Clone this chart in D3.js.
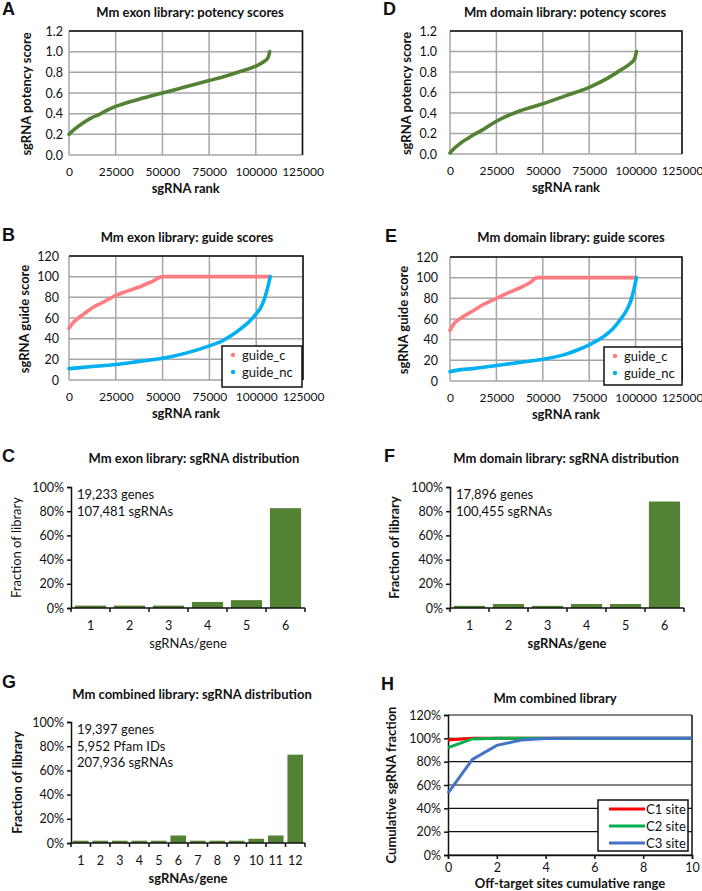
<!DOCTYPE html>
<html>
<head>
<meta charset="utf-8">
<script src="https://cdn.jsdelivr.net/npm/d3@7"></script>
<style>
body { margin: 0; background: #fff; }
text { font-family: Lato, "Open Sans", sans-serif; fill: #111; }
</style>
</head>
<body>
<div id="fig"></div>
<script>
// tick labels
var rankTicks = [0, 25000, 50000, 75000, 100000, 125000];
var potencyTicks = [0, 0.2, 0.4, 0.6, 0.8, 1.0, 1.2];
var guideTicks = [0, 20, 40, 60, 80, 100, 120];
var fracTicks = [0, 0.2, 0.4, 0.6, 0.8, 1.0];
var cumTicks = [0, 0.2, 0.4, 0.6, 0.8, 1.0, 1.2];
var offTicks = [0, 2, 4, 6, 8, 10];

// potency curves [rank, score]
var exonPotency = [[0,0.2],[3000,0.25],[7500,0.31],[12000,0.36],[16000,0.39],[20000,0.43],[25000,0.47],
  [30000,0.5],[37500,0.54],[50000,0.6],[62500,0.66],[75000,0.72],[85000,0.77],[92000,0.81],
  [100000,0.86],[104000,0.9],[106500,0.94],[107481,1.0]];
var domainPotency = [[0,0.01],[2000,0.05],[6000,0.11],[12000,0.18],[18000,0.24],[25000,0.32],[37500,0.42],
  [50000,0.49],[62500,0.57],[75000,0.65],[85000,0.74],[92000,0.82],[97000,0.88],[99500,0.93],[100455,1.0]];

// guide score curves
var exonGuideC = [[0,50],[2000,55],[5000,60],[8000,64],[12500,70],[18000,75],[25000,82],[31000,86],
  [37500,90],[44000,95],[50000,100],[107481,100]];
var exonGuideNc = [[0,11],[6000,12],[12500,13],[25000,15],[37500,18],[50000,21],[62500,26],[75000,33],
  [82000,38],[87500,44],[92000,50],[96000,56],[100000,64],[103000,72],[105000,82],[106500,92],[107481,100]];
var domainGuideC = [[0,49],[2000,55],[6000,61],[12500,68],[18000,74],[25000,80],[31000,85],[37500,90],
  [43000,95],[47000,100],[100455,100]];
var domainGuideNc = [[0,9],[6000,11],[12500,12],[25000,15],[37500,18],[50000,21],[62500,26],[70000,31],
  [75000,35],[82000,42],[87500,50],[92000,60],[95000,68],[97500,78],[99000,88],[100455,100]];

// sgRNA distributions
var exonCats = ["1","2","3","4","5","6"];
var exonFrac = [0.02, 0.02, 0.02, 0.05, 0.065, 0.825];
var domainCats = ["1","2","3","4","5","6"];
var domainFrac = [0.018, 0.033, 0.018, 0.033, 0.033, 0.88];
var combCats = ["1","2","3","4","5","6","7","8","9","10","11","12"];
var combFrac = [0.019, 0.019, 0.019, 0.019, 0.019, 0.062, 0.019, 0.019, 0.019, 0.035, 0.062, 0.73];

// off-target cumulative fractions
var offRange = [0, 1, 2, 3, 4, 5, 6, 7, 8, 9, 10];
var c1Cum = [0.985, 1, 1, 1, 1, 1, 1, 1, 1, 1, 1];
var c2Cum = [0.92, 0.995, 1, 1, 1, 1, 1, 1, 1, 1, 1];
var c3Cum = [0.53, 0.82, 0.94, 0.985, 0.998, 1, 1, 1, 1, 1, 1];

var green = "#548235";

var svg = d3.select("#fig").append("svg")
  .attr("width", 702)
  .attr("height", 891);

function letter(txt, x, y) {
  svg.append("text").attr("x", x).attr("y", y)
    .style("font-family", "'Liberation Sans', Arial, sans-serif")
    .style("font-weight", "bold").style("font-size", "18px")
    .text(txt);
}

function title(txt, x, y) {
  svg.append("text").attr("x", x).attr("y", y)
    .attr("text-anchor", "middle")
    .style("font-weight", "bold").style("font-size", "13px")
    .text(txt);
}

function yTitle(txt, x, y, bold) {
  svg.append("text")
    .attr("transform", "translate(" + x + "," + y + ") rotate(-90)")
    .attr("text-anchor", "middle")
    .style("font-weight", bold ? "bold" : "normal").style("font-size", "13px")
    .text(txt);
}

function xTitle(txt, x, y, bold) {
  svg.append("text").attr("x", x).attr("y", y)
    .attr("text-anchor", "middle")
    .style("font-weight", bold ? "bold" : "normal").style("font-size", "13px")
    .text(txt);
}

// scatter-style score panels (A, B, D, E)
function scorePanel(p) {
  var x = d3.scaleLinear().domain([0, 125000]).range([p.l, p.r]);
  var y = d3.scaleLinear().domain([0, p.ymax]).range([p.b, p.t]);

  var grid = svg.append("g");
  grid.selectAll(".vg").data(rankTicks).enter().append("line")
    .attr("x1", function(d) { return x(d); }).attr("x2", function(d) { return x(d); })
    .attr("y1", p.t).attr("y2", p.b)
    .style("stroke", "#a6a6a6").style("stroke-width", 1.5);
  grid.selectAll(".hg").data(p.yticks).enter().append("line")
    .attr("x1", p.l).attr("x2", p.r)
    .attr("y1", function(d) { return y(d); }).attr("y2", function(d) { return y(d); })
    .style("stroke", "#a6a6a6").style("stroke-width", 1.5);
  // top and right border
  svg.append("path")
    .attr("d", "M" + p.l + "," + p.t + "H" + p.r + "V" + p.b)
    .style("fill", "none").style("stroke", "#111").style("stroke-width", 1.5);

  var xa = svg.append("g")
    .attr("transform", "translate(0," + p.b + ")")
    .call(d3.axisBottom(x).tickValues(rankTicks).tickSize(0).tickPadding(12).tickFormat(d3.format("d")));
  xa.select(".domain").remove();
  xa.selectAll("text").style("font-size", "12px").style("font-family", "Lato, sans-serif").style("fill", "#111");

  var ya = svg.append("g")
    .attr("transform", "translate(" + p.l + ",0)")
    .call(d3.axisLeft(y).tickValues(p.yticks).tickSize(0).tickPadding(p.ypad).tickFormat(p.yfmt));
  ya.select(".domain").remove();
  ya.selectAll("text").style("font-size", "12.5px").style("font-family", "Lato, sans-serif").style("fill", "#111");

  var line = d3.line()
    .x(function(d) { return x(d[0]); })
    .y(function(d) { return y(d[1]); })
    .curve(d3.curveMonotoneX);

  p.series.forEach(function(s) {
    svg.append("path").datum(s.data)
      .attr("d", line)
      .style("fill", "none").style("stroke", s.color)
      .style("stroke-width", 3.6).style("stroke-linecap", "round");
  });

  if (p.legend) {
    var lg = p.legend;
    svg.append("rect").attr("x", lg.x).attr("y", lg.y).attr("width", lg.w).attr("height", lg.h)
      .style("fill", "#fff").style("stroke", "#111").style("stroke-width", 1.5);
    p.series.forEach(function(s, i) {
      var cy = lg.y + 9 + i * 17;
      svg.append("circle").attr("cx", lg.x + 11).attr("cy", cy).attr("r", 2.2).style("fill", s.color);
      svg.append("text").attr("x", lg.x + 20).attr("y", cy + 4.5)
        .style("font-size", "13px").text(s.name);
    });
  }

  title(p.title, p.tx, p.ty);
  yTitle(p.ytitle, p.ytx, (p.t + p.b) / 2 + 1, true);
  xTitle("sgRNA rank", (p.l + p.r) / 2, p.b + 38, true);
}

// bar panels (C, F, G)
function barPanel(p) {
  var x = d3.scaleBand().domain(p.cats).range([p.l, p.r]).paddingInner(0.2).paddingOuter(0.1);
  var y = d3.scaleLinear().domain([0, 1]).range([p.b, p.t]);
  var step = x.step();

  svg.selectAll(".bar" + p.id).data(p.vals).enter().append("rect")
    .attr("x", function(d, i) { return x(p.cats[i]); })
    .attr("y", function(d) { return y(d); })
    .attr("width", x.bandwidth())
    .attr("height", function(d) { return p.b - y(d); })
    .style("fill", green);

  var ya = svg.append("g")
    .attr("transform", "translate(" + p.l + ",0)")
    .call(d3.axisLeft(y).tickValues(fracTicks).tickSize(4).tickPadding(3).tickFormat(d3.format(".0%")));
  ya.selectAll("path, line").style("stroke", "#111").style("stroke-width", 1.5);
  ya.selectAll("text").style("font-size", "12.5px").style("font-family", "Lato, sans-serif").style("fill", "#111");

  // x axis line with boundary ticks
  var bounds = d3.range(p.cats.length + 1).map(function(i) { return p.l + i * step; });
  svg.append("line").attr("x1", p.l).attr("x2", p.r).attr("y1", p.b).attr("y2", p.b)
    .style("stroke", "#111").style("stroke-width", 1.5);
  svg.selectAll(".bt" + p.id).data(bounds).enter().append("line")
    .attr("x1", function(d) { return d; }).attr("x2", function(d) { return d; })
    .attr("y1", p.b).attr("y2", p.b + 4)
    .style("stroke", "#111").style("stroke-width", 1.5);
  svg.selectAll(".bl" + p.id).data(p.cats).enter().append("text")
    .attr("x", function(d) { return x(d) + x.bandwidth() / 2; })
    .attr("y", p.b + 22)
    .attr("text-anchor", "middle")
    .style("font-size", "12.5px")
    .text(function(d) { return d; });

  p.notes.forEach(function(n, i) {
    svg.append("text").attr("x", p.l + 6).attr("y", p.t + 12 + i * 16.5)
      .style("font-size", "13px").text(n);
  });

  title(p.title, p.tx, p.ty);
  yTitle("Fraction of library", p.ytx, (p.t + p.b) / 2, p.bold);
  xTitle("sgRNAs/gene", (p.l + p.r) / 2, p.b + 40, p.bold);
}

// panel A
letter("A", 2, 15);
scorePanel({
  l: 69, r: 302.5, t: 31, b: 155, ymax: 1.2, yticks: potencyTicks, yfmt: d3.format(".1f"), ypad: 6,
  title: "Mm exon library: potency scores", tx: 190, ty: 17,
  ytitle: "sgRNA potency score", ytx: 31,
  series: [{ data: exonPotency, color: green }]
});

// panel D
letter("D", 383, 15);
scorePanel({
  l: 450, r: 682, t: 31, b: 154, ymax: 1.2, yticks: potencyTicks, yfmt: d3.format(".1f"), ypad: 13,
  title: "Mm domain library: potency scores", tx: 565, ty: 17,
  ytitle: "sgRNA potency score", ytx: 411,
  series: [{ data: domainPotency, color: green }]
});

// panel B
letter("B", 2, 241);
scorePanel({
  l: 69, r: 303, t: 256, b: 380, ymax: 120, yticks: guideTicks, yfmt: d3.format("d"), ypad: 10,
  title: "Mm exon library: guide scores", tx: 187, ty: 242,
  ytitle: "sgRNA guide score", ytx: 29,
  series: [{ data: exonGuideC, color: "#ff7c80", name: "guide_c" },
           { data: exonGuideNc, color: "#00b0f0", name: "guide_nc" }],
  legend: { x: 222, y: 346, w: 80, h: 41 }
});

// panel E
letter("E", 385, 242);
scorePanel({
  l: 450, r: 682, t: 257, b: 381, ymax: 120, yticks: guideTicks, yfmt: d3.format("d"), ypad: 12,
  title: "Mm domain library: guide scores", tx: 571, ty: 242,
  ytitle: "sgRNA guide score", ytx: 408,
  series: [{ data: domainGuideC, color: "#ff7c80", name: "guide_c" },
           { data: domainGuideNc, color: "#00b0f0", name: "guide_nc" }],
  legend: { x: 604, y: 347, w: 78, h: 38 }
});

// panel C
letter("C", 2, 462);
barPanel({
  id: "c", l: 71, r: 305, t: 487, b: 608, cats: exonCats, vals: exonFrac,
  title: "Mm exon library: sgRNA distribution", tx: 194, ty: 463, ytx: 21, bold: false,
  notes: ["19,233 genes", "107,481 sgRNAs"]
});

// panel F
letter("F", 384, 462);
barPanel({
  id: "f", l: 450, r: 684, t: 487, b: 608, cats: domainCats, vals: domainFrac,
  title: "Mm domain library: sgRNA distribution", tx: 566, ty: 463, ytx: 399, bold: true,
  notes: ["17,896 genes", "100,455 sgRNAs"]
});

// panel G
letter("G", 2, 688);
barPanel({
  id: "g", l: 71, r: 305, t: 722, b: 843, cats: combCats, vals: combFrac,
  title: "Mm combined library: sgRNA distribution", tx: 192, ty: 699, ytx: 22, bold: true,
  notes: ["19,397 genes", "5,952 Pfam IDs", "207,936 sgRNAs"]
});

// panel H
letter("H", 381, 690);
(function() {
  var l = 448, r = 692, t = 715, b = 855;
  var x = d3.scaleLinear().domain([0, 10]).range([l, r]);
  var y = d3.scaleLinear().domain([0, 1.2]).range([b, t]);

  svg.selectAll(".hgrid").data(cumTicks).enter().append("line")
    .attr("x1", l).attr("x2", r)
    .attr("y1", function(d) { return y(d); }).attr("y2", function(d) { return y(d); })
    .style("stroke", "#111").style("stroke-width", 1.2);
  svg.append("line").attr("x1", r).attr("x2", r).attr("y1", t).attr("y2", b)
    .style("stroke", "#111").style("stroke-width", 1.5);

  var ya = svg.append("g").attr("transform", "translate(" + l + ",0)")
    .call(d3.axisLeft(y).tickValues(cumTicks).tickSize(4).tickPadding(3).tickFormat(d3.format(".0%")));
  ya.selectAll("path, line").style("stroke", "#111").style("stroke-width", 1.5);
  ya.selectAll("text").style("font-size", "12.5px").style("font-family", "Lato, sans-serif").style("fill", "#111");

  var xa = svg.append("g").attr("transform", "translate(0," + b + ")")
    .call(d3.axisBottom(x).tickValues(offTicks).tickSize(4).tickPadding(4));
  xa.selectAll("path, line").style("stroke", "#111").style("stroke-width", 1.5);
  xa.selectAll("text").style("font-size", "12.5px").style("font-family", "Lato, sans-serif").style("fill", "#111");

  var sites = [
    { name: "C1 site", vals: c1Cum, color: "#ff0000" },
    { name: "C2 site", vals: c2Cum, color: "#00b050" },
    { name: "C3 site", vals: c3Cum, color: "#4472c4" }
  ];
  var line = d3.line()
    .x(function(d, i) { return x(offRange[i]); })
    .y(function(d) { return y(d); });
  sites.forEach(function(s) {
    svg.append("path").datum(s.vals).attr("d", line)
      .style("fill", "none").style("stroke", s.color).style("stroke-width", 3);
  });

  svg.append("rect").attr("x", 598).attr("y", 800).attr("width", 90).attr("height", 51)
    .style("fill", "#fff").style("stroke", "#111").style("stroke-width", 1.5);
  sites.forEach(function(s, i) {
    var cy = 809 + i * 17;
    svg.append("line").attr("x1", 609).attr("x2", 645).attr("y1", cy).attr("y2", cy)
      .style("stroke", s.color).style("stroke-width", 3);
    svg.append("text").attr("x", 646).attr("y", cy + 4.5).style("font-size", "13px").text(s.name);
  });

  title("Mm combined library", 555, 703);
  yTitle("Cumulative sgRNA fraction", 396, (t + b) / 2, true);
  xTitle("Off-target sites cumulative range", (l + r) / 2, 888, true);
})();
</script>
</body>
</html>
